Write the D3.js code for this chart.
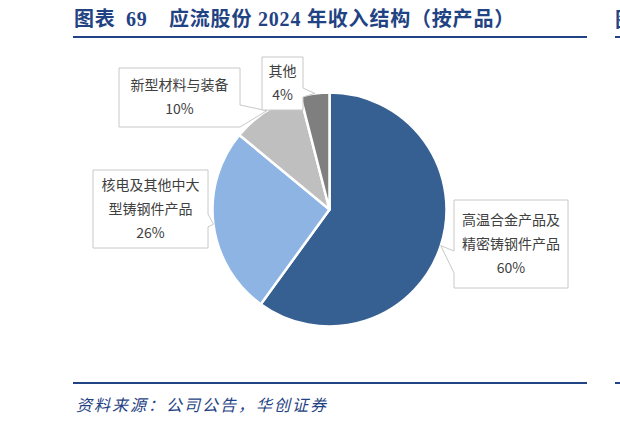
<!DOCTYPE html>
<html>
<head>
<meta charset="utf-8">
<script src="https://cdn.jsdelivr.net/npm/d3@7"></script>
<style>
  body { margin: 0; background: #fff; }
  svg { display: block; }
</style>
</head>
<body>
<script>
// chart data
const categories = ['高温合金产品及精密铸钢件产品', '核电及其他中大型铸钢件产品', '新型材料与装备', '其他'];
const shares = [60, 26, 10, 4];
const labelLines = [['高温合金产品及', '精密铸钢件产品'], ['核电及其他中大', '型铸钢件产品'], ['新型材料与装备'], ['其他']];
const colors = ['#366092', '#8db4e2', '#bfbfbf', '#7f7f7f'];

// svg dimensions
const w = 620
const h = 423

// pie geometry
const cx = 329.5
const cy = 209.5
const r = 117

// callout boxes (x, y, width, height, side of the pointer, pointer base)
const boxes = [
    { x: 454, y: 200, w: 114, h: 88, side: 'left', b: [251, 273] },
    { x: 93, y: 170, w: 115, h: 78, side: 'right', b: [214, 227] },
    { x: 119, y: 68, w: 121, h: 59, side: 'right', b: [105, 127] },
    { x: 262, y: 57, w: 41, h: 53, side: 'right', b: [88, 97] }
];

const navy = '#1f4383';
const cjk = '"Noto Sans CJK SC", "Noto Sans", sans-serif';

let svg = d3.select('body')
    .append('svg')
    .attr('width', w)
    .attr('height', h);

// title
let title = svg.append('text')
    .attr('y', 26)
    .attr('fill', navy)
    .attr('font-weight', 'bold')
    .attr('font-size', 20)
    .attr('letter-spacing', 0.8)
    .attr('font-family', '"Liberation Serif", ' + cjk);
title.append('tspan').attr('x', 74).text('图表');
title.append('tspan').attr('x', 126).text('69');
title.append('tspan').attr('x', 169).text('应流股份 2024 年收入结构（按产品）');

// cut-off title of the neighbouring chart
svg.append('text')
    .attr('x', 615)
    .attr('y', 27)
    .attr('fill', navy)
    .attr('font-weight', 'bold')
    .attr('font-size', 20)
    .attr('font-family', cjk)
    .text('图');

// rules
[37, 383].forEach(y => {
    svg.append('line')
        .attr('x1', 73).attr('x2', 587)
        .attr('y1', y).attr('y2', y)
        .attr('stroke', navy)
        .attr('stroke-width', 2);
    svg.append('line')
        .attr('x1', 615).attr('x2', 620)
        .attr('y1', y).attr('y2', y)
        .attr('stroke', navy)
        .attr('stroke-width', 2);
});

// source
svg.append('text')
    .attr('x', 76)
    .attr('y', 411)
    .attr('fill', navy)
    .attr('font-size', 16)
    .attr('letter-spacing', 2)
    .attr('font-style', 'italic')
    .attr('font-family', cjk)
    .text('资料来源：公司公告，华创证券');

// pie
let pie = d3.pie().sort(null).value(d => d);
let arcs = pie(shares);

let arc = d3.arc().innerRadius(0).outerRadius(r);
let edge = d3.arc().innerRadius(r).outerRadius(r);

let g = svg.append('g').attr('transform', `translate(${cx},${cy})`);

g.selectAll('path')
    .data(arcs)
    .enter()
    .append('path')
    .attr('d', arc)
    .attr('fill', (d, i) => colors[i])
    .attr('stroke', '#fff')
    .attr('stroke-width', 2.5)
    .attr('stroke-linejoin', 'round');

// callouts
function calloutPath(b, tip) {
    let x0 = b.x, x1 = b.x + b.w, y0 = b.y, y1 = b.y + b.h;
    if (b.side == 'right') {
        return `M${x0},${y0}H${x1}V${b.b[0]}L${tip[0]},${tip[1]}L${x1},${b.b[1]}V${y1}H${x0}Z`;
    }
    return `M${x0},${y0}H${x1}V${y1}H${x0}V${b.b[1]}L${tip[0]},${tip[1]}L${x0},${b.b[0]}Z`;
}

// boxes drawn in slice order so the "其他" box sits on top
boxes.forEach((b, i) => {
    let c = edge.centroid(arcs[i]);
    let tip = [cx + c[0], cy + c[1]];

    svg.append('path')
        .attr('d', calloutPath(b, tip))
        .attr('fill', '#fff')
        .attr('stroke', '#c8c8c8')
        .attr('stroke-width', 1);

    let lines = labelLines[i].concat([shares[i] + '%']);
    let lh = 24;
    let top = b.y + b.h / 2 - (lines.length - 1) * lh / 2;

    svg.append('g')
        .selectAll('text')
        .data(lines)
        .enter()
        .append('text')
        .attr('x', b.x + b.w / 2)
        .attr('y', (d, k) => top + k * lh)
        .attr('dy', '0.35em')
        .attr('text-anchor', 'middle')
        .attr('fill', '#404040')
        .attr('font-size', 14)
        .attr('font-family', cjk)
        .text(d => d);
});
</script>
</body>
</html>
